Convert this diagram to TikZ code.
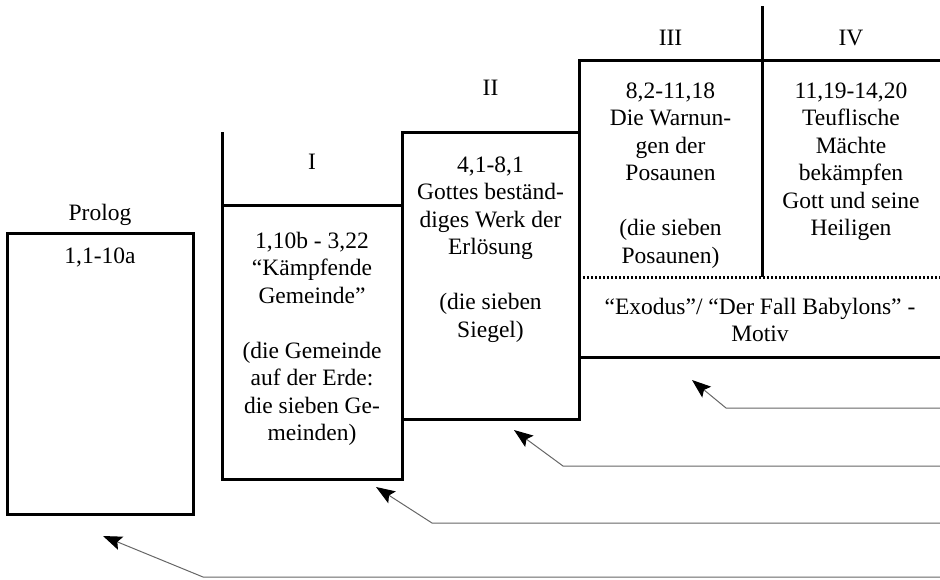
\documentclass[tikz,border=0pt]{standalone}
\usepackage{fontspec}
\setmainfont{Liberation Serif}
\usetikzlibrary{arrows.meta}
\begin{document}
\begin{tikzpicture}[x=1pt,y=-1pt,
  frame/.style={line width=3pt},
  framebox/.style={draw,line width=3pt,inner sep=0pt,outer sep=0pt},
  dotline/.style={line width=3pt,dash pattern=on 2pt off 2pt},
  lbl/.style={font=\fontsize{23.5}{27.5}\selectfont,anchor=base,inner sep=0pt},
  pointer/.style={draw=black!60,line width=1pt,
    -{Stealth[length=19pt,width=14pt,inset=3.5pt,color=black]}}]
\useasboundingbox (0,0) rectangle (940,579);

% boxes
\node[framebox,minimum width=186pt,minimum height=281pt] (prolog) at (100,373.5) {};
\node[framebox,minimum width=180pt,minimum height=274pt] (boxI) at (312,342) {};
\node[framebox,minimum width=177pt,minimum height=287pt] (boxII) at (490.5,275.5) {};

% header line of I
\draw[frame] (boxI.north west) -- ++(0,-73);
% column III / IV / motif area
\coordinate (IIItop) at (579,60);
\coordinate (IIItopR) at (940,60);
\coordinate (motifBL) at (579,357);
\coordinate (motifBR) at (940,357);
\coordinate (dotL) at (579,277);
\coordinate (dotR) at (940,277);
\coordinate (divTop) at (762,6);
\coordinate (divBot) at (762,277);
\draw[frame] (IIItopR) -- (IIItop) -- (motifBL) -- (motifBR);
\draw[frame] (divTop) -- (divBot);
\draw[dotline] (dotL) -- (dotR);

% labels
\node[lbl] (lprolog) at (100,220) {Prolog};
\node[lbl] (tprolog) at (100,263) {1,1-10a};
\node[lbl] (lI) at (312,169) {I};
\node[lbl] (lII) at (490.5,95) {II};
\node[lbl] (lIII) at (670.5,45) {III};
\node[lbl] (lIV) at (851,45) {IV};

\foreach \t/\yy [count=\k] in {{1,10b - 3,22}/248,{“Kämpfende}/275.5,{Gemeinde”}/303,
  {(die Gemeinde}/358,{auf der Erde:}/385.5,{die sieben Ge-}/413,{meinden)}/440.5}
  \node[lbl] (tI-\k) at (312,\yy) {\t};

\foreach \t/\yy [count=\k] in {{4,1-8,1}/172,{Gottes beständ-}/199.5,{diges Werk der}/227,
  {Erlösung}/254.5,{(die sieben}/309.5,{Siegel)}/337}
  \node[lbl] (tII-\k) at (490.5,\yy) {\t};

\foreach \t/\yy [count=\k] in {{8,2-11,18}/98,{Die Warnun-}/125.5,{gen der}/153,
  {Posaunen}/180.5,{(die sieben}/235.5,{Posaunen)}/263}
  \node[lbl] (tIII-\k) at (670.5,\yy) {\t};

\foreach \t/\yy [count=\k] in {{11,19-14,20}/98,{Teuflische}/125.5,{Mächte}/153,
  {bekämpfen}/180.5,{Gott und seine}/208,{Heiligen}/235.5}
  \node[lbl] (tIV-\k) at (851,\yy) {\t};

\node[lbl] (motif1) at (760,314) {“Exodus”/ “Der Fall Babylons” -};
\node[lbl] (motif2) at (760,341.5) {Motiv};

% arrows
\coordinate (s1) at (940,408); \coordinate (b1) at (726,408); \coordinate (e1) at (692,380);
\coordinate (s2) at (940,466); \coordinate (b2) at (563,466); \coordinate (e2) at (514,430);
\coordinate (s3) at (940,523); \coordinate (b3) at (432,523); \coordinate (e3) at (376,487);
\coordinate (s4) at (940,577); \coordinate (b4) at (203,577); \coordinate (e4) at (103,536);
\draw[pointer] (s1) -- (b1) -- (e1);
\draw[pointer] (s2) -- (b2) -- (e2);
\draw[pointer] (s3) -- (b3) -- (e3);
\draw[pointer] (s4) -- (b4) -- (e4);
\end{tikzpicture}
\end{document}
